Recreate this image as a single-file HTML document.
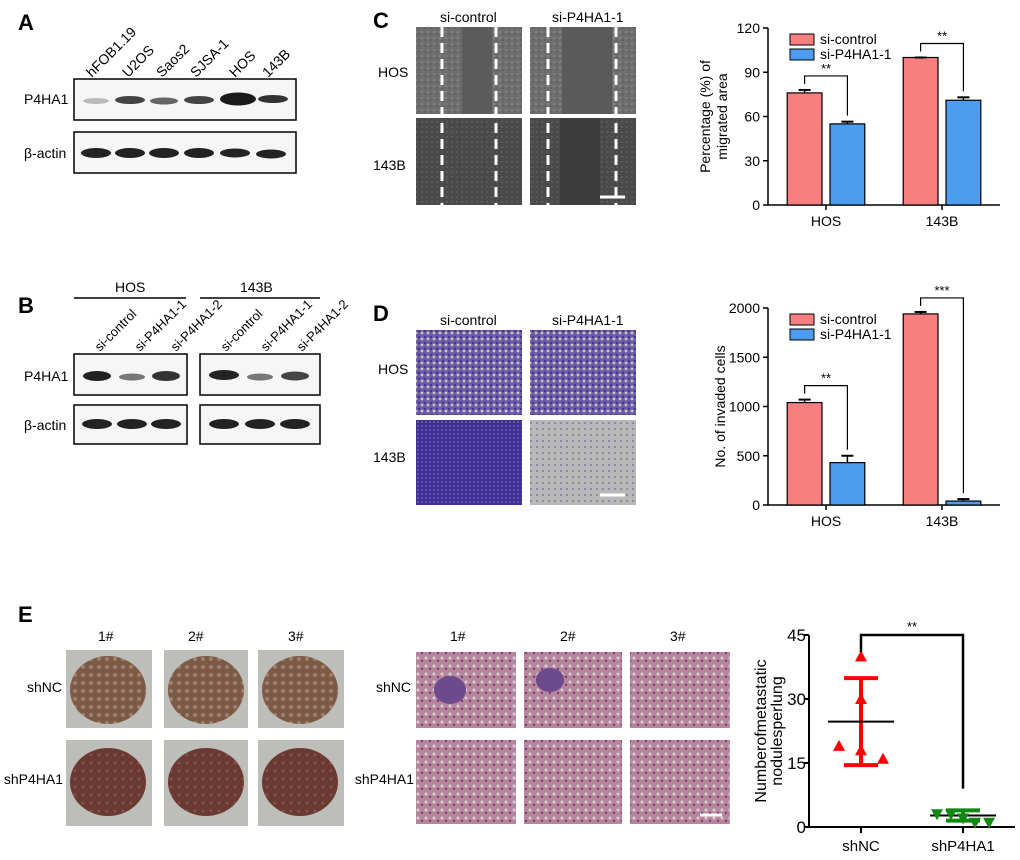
<!DOCTYPE html>
<html><head><meta charset="utf-8"><style>
body{margin:0;background:#fff}
svg{display:block;font-family:"Liberation Sans",Arial,sans-serif}
</style></head><body>
<svg width="1020" height="860" viewBox="0 0 1020 860">
<defs>
<pattern id="cells" width="6" height="6" patternUnits="userSpaceOnUse"><rect width="6" height="6" fill="#6e6e6e"/><circle cx="2" cy="2" r="1" fill="#8a8a8a"/><circle cx="5" cy="4" r="0.8" fill="#555"/></pattern>
<pattern id="dense" width="5" height="5" patternUnits="userSpaceOnUse"><rect width="5" height="5" fill="#4a4a4a"/><circle cx="2" cy="2" r="1" fill="#5e5e5e"/></pattern>
<pattern id="purple" width="6" height="6" patternUnits="userSpaceOnUse"><rect width="6" height="6" fill="#6a5aa8"/><circle cx="2" cy="3" r="1.4" fill="#c9c8b8"/><circle cx="5" cy="1" r="1" fill="#3b2a88"/></pattern>
<pattern id="purpleD" width="4" height="4" patternUnits="userSpaceOnUse"><rect width="4" height="4" fill="#3f2e94"/><circle cx="2" cy="2" r="0.8" fill="#8a80c0"/></pattern>
<pattern id="light" width="6" height="6" patternUnits="userSpaceOnUse"><rect width="6" height="6" fill="#b9b8b8"/><circle cx="3" cy="3" r="0.8" fill="#5a4e90"/></pattern>
<pattern id="he" width="8" height="8" patternUnits="userSpaceOnUse"><rect width="8" height="8" fill="#b7869e"/><circle cx="2" cy="2" r="1.5" fill="#d8cdd2"/><circle cx="6" cy="5" r="1.2" fill="#7a3e74"/></pattern>
<pattern id="lung1" width="8" height="8" patternUnits="userSpaceOnUse"><rect width="8" height="8" fill="#7b5a48"/><circle cx="3" cy="3" r="2" fill="#a08068"/></pattern>
<pattern id="lung2" width="8" height="8" patternUnits="userSpaceOnUse"><rect width="8" height="8" fill="#6a3a32"/><circle cx="3" cy="3" r="1.5" fill="#84504a"/></pattern>
</defs>

<!-- Panel A -->
<text x="18" y="30" font-size="22" font-weight="bold">A</text>
<g font-size="14">
<text transform="translate(92,78) rotate(-45)">hFOB1.19</text>
<text transform="translate(128,78) rotate(-45)">U2OS</text>
<text transform="translate(162,78) rotate(-45)">Saos2</text>
<text transform="translate(196,78) rotate(-45)">SJSA-1</text>
<text transform="translate(235,78) rotate(-45)">HOS</text>
<text transform="translate(268,78) rotate(-45)">143B</text>
</g>
<text x="24" y="104" font-size="14">P4HA1</text>
<text x="24" y="158" font-size="14">β-actin</text>
<rect x="74" y="79" width="222" height="41" fill="#f6f6f6" stroke="#000" stroke-width="1.5"/>
<rect x="74" y="132" width="222" height="41" fill="#f6f6f6" stroke="#000" stroke-width="1.5"/>
<g fill="#222">
<ellipse cx="96" cy="101" rx="13" ry="3" fill="#bbb"/>
<ellipse cx="130" cy="100" rx="15" ry="4" fill="#444"/>
<ellipse cx="164" cy="101" rx="14" ry="3.5" fill="#666"/>
<ellipse cx="199" cy="100" rx="15" ry="4" fill="#444"/>
<ellipse cx="238" cy="99" rx="18" ry="6.5" fill="#1a1a1a"/>
<ellipse cx="273" cy="99" rx="15" ry="4" fill="#333"/>
<ellipse cx="96" cy="153" rx="15" ry="5"/><ellipse cx="130" cy="153" rx="15" ry="5"/><ellipse cx="164" cy="153" rx="15" ry="5"/><ellipse cx="199" cy="153" rx="15" ry="5"/><ellipse cx="235" cy="153" rx="15" ry="4.5"/><ellipse cx="271" cy="154" rx="15" ry="4.5"/>
</g>

<!-- Panel B -->
<text x="18" y="313" font-size="22" font-weight="bold">B</text>
<text x="115" y="292" font-size="14">HOS</text>
<text x="240" y="292" font-size="14">143B</text>
<line x1="74" y1="298" x2="186" y2="298" stroke="#000" stroke-width="1.5"/>
<line x1="200" y1="298" x2="320" y2="298" stroke="#000" stroke-width="1.5"/>
<g font-size="13">
<text transform="translate(100,352) rotate(-45)">si-control</text>
<text transform="translate(140,352) rotate(-45)">si-P4HA1-1</text>
<text transform="translate(176,352) rotate(-45)">si-P4HA1-2</text>
<text transform="translate(226,352) rotate(-45)">si-control</text>
<text transform="translate(266,352) rotate(-45)">si-P4HA1-1</text>
<text transform="translate(302,352) rotate(-45)">si-P4HA1-2</text>
</g>
<text x="24" y="381" font-size="14">P4HA1</text>
<text x="24" y="430" font-size="14">β-actin</text>
<rect x="74" y="354" width="113" height="41" fill="#f6f6f6" stroke="#000" stroke-width="1.5"/>
<rect x="200" y="354" width="120" height="41" fill="#f6f6f6" stroke="#000" stroke-width="1.5"/>
<rect x="74" y="405" width="113" height="39" fill="#f6f6f6" stroke="#000" stroke-width="1.5"/>
<rect x="200" y="405" width="120" height="39" fill="#f6f6f6" stroke="#000" stroke-width="1.5"/>
<g fill="#222">
<ellipse cx="97" cy="376" rx="14" ry="5"/><ellipse cx="132" cy="377" rx="13" ry="3.5" fill="#777"/><ellipse cx="166" cy="376" rx="14" ry="5" fill="#333"/>
<ellipse cx="224" cy="375" rx="15" ry="5"/><ellipse cx="260" cy="377" rx="13" ry="3.5" fill="#777"/><ellipse cx="295" cy="376" rx="14" ry="4.5" fill="#444"/>
<ellipse cx="97" cy="424" rx="15" ry="5"/><ellipse cx="132" cy="424" rx="15" ry="5"/><ellipse cx="166" cy="424" rx="15" ry="5"/>
<ellipse cx="224" cy="424" rx="15" ry="5"/><ellipse cx="260" cy="424" rx="15" ry="5"/><ellipse cx="295" cy="424" rx="15" ry="5"/>
</g>

<!-- Panel C images -->
<text x="373" y="28" font-size="22" font-weight="bold">C</text>
<text x="440" y="22" font-size="14">si-control</text>
<text x="552" y="22" font-size="14">si-P4HA1-1</text>
<text x="378" y="77" font-size="14">HOS</text>
<text x="373" y="170" font-size="14">143B</text>
<g>
<rect x="416" y="27" width="106" height="87" fill="url(#cells)"/>
<rect x="462" y="27" width="30" height="87" fill="#5c5c5c"/>
<rect x="530" y="27" width="106" height="87" fill="url(#cells)"/>
<rect x="562" y="27" width="50" height="87" fill="#5a5a5a"/>
<rect x="416" y="118" width="106" height="87" fill="url(#dense)"/>
<rect x="530" y="118" width="106" height="87" fill="url(#dense)"/>
<rect x="560" y="118" width="40" height="87" fill="#3c3c3c"/>
<g stroke="#fff" stroke-width="3" stroke-dasharray="10,6">
<line x1="442" y1="27" x2="442" y2="205"/><line x1="496" y1="27" x2="496" y2="205"/>
<line x1="548" y1="27" x2="548" y2="205"/><line x1="616" y1="27" x2="616" y2="205"/>
</g>
<line x1="600" y1="197" x2="625" y2="197" stroke="#fff" stroke-width="3"/>
</g>

<!-- Panel D images -->
<text x="373" y="321" font-size="22" font-weight="bold">D</text>
<text x="440" y="325" font-size="14">si-control</text>
<text x="552" y="325" font-size="14">si-P4HA1-1</text>
<text x="378" y="374" font-size="14">HOS</text>
<text x="373" y="462" font-size="14">143B</text>
<g>
<rect x="416" y="330" width="106" height="85" fill="url(#purple)"/>
<rect x="530" y="330" width="106" height="85" fill="url(#purple)"/>
<rect x="416" y="420" width="106" height="85" fill="url(#purpleD)"/>
<rect x="530" y="420" width="106" height="85" fill="url(#light)"/>
<line x1="600" y1="495" x2="625" y2="495" stroke="#fff" stroke-width="3"/>
</g>

<g id="chartC"></g>
<g id="chartD"></g>

<!-- Panel E -->
<text x="18" y="622" font-size="22" font-weight="bold">E</text>
<g font-size="14">
<text x="98" y="641">1#</text><text x="188" y="641">2#</text><text x="288" y="641">3#</text>
<text x="62" y="692" text-anchor="end">shNC</text><text x="63" y="784" text-anchor="end">shP4HA1</text>
<text x="450" y="641">1#</text><text x="560" y="641">2#</text><text x="670" y="641">3#</text>
<text x="411" y="692" text-anchor="end">shNC</text><text x="414" y="784" text-anchor="end">shP4HA1</text>
</g>
<g>
<rect x="66" y="650" width="86" height="78" fill="#bdbdb9"/><ellipse cx="108" cy="690" rx="38" ry="34" fill="url(#lung1)"/>
<rect x="164" y="650" width="84" height="78" fill="#bdbdb9"/><ellipse cx="206" cy="690" rx="38" ry="34" fill="url(#lung1)"/>
<rect x="258" y="650" width="86" height="78" fill="#bdbdb9"/><ellipse cx="300" cy="690" rx="38" ry="34" fill="url(#lung1)"/>
<rect x="66" y="740" width="86" height="86" fill="#bdbdb9"/><ellipse cx="108" cy="782" rx="38" ry="34" fill="url(#lung2)"/>
<rect x="164" y="740" width="84" height="86" fill="#bdbdb9"/><ellipse cx="206" cy="782" rx="38" ry="34" fill="url(#lung2)"/>
<rect x="258" y="740" width="86" height="86" fill="#bdbdb9"/><ellipse cx="300" cy="782" rx="38" ry="34" fill="url(#lung2)"/>
</g>
<g>
<rect x="416" y="652" width="100" height="76" fill="url(#he)"/>
<rect x="524" y="652" width="98" height="76" fill="url(#he)"/>
<rect x="630" y="652" width="100" height="76" fill="url(#he)"/>
<rect x="416" y="740" width="100" height="84" fill="url(#he)"/>
<rect x="524" y="740" width="98" height="84" fill="url(#he)"/>
<rect x="630" y="740" width="100" height="84" fill="url(#he)"/>
<ellipse cx="450" cy="690" rx="16" ry="14" fill="#6d4a8e"/>
<ellipse cx="550" cy="680" rx="14" ry="12" fill="#6d4a8e"/>
<line x1="700" y1="815" x2="722" y2="815" stroke="#fff" stroke-width="3"/>
</g>
<g id="chartE"></g>
</svg>
<script>
const NS="http://www.w3.org/2000/svg";
function mk(p,tag,a){const e=document.createElementNS(NS,tag);for(const k in a)e.setAttribute(k,a[k]);p.appendChild(e);return e;}
function txt(p,x,y,s,size,anchor,extra){const t=mk(p,'text',Object.assign({x:x,y:y,'font-size':size,'text-anchor':anchor||'start'},extra||{}));t.textContent=s;return t;}

// Chart C data
const cGroups=["HOS","143B"];
const cSeries=["si-control","si-P4HA1-1"];
const cControl=[76,100];
const cKnock=[55,71];
const cControlErr=[2,0];
const cKnockErr=[1.5,2];
const cTicks=[0,30,60,90,120];
const cSig=["**","**"];
// Chart D data
const dControl=[1040,1940];
const dKnock=[430,40];
const dControlErr=[30,20];
const dKnockErr=[70,20];
const dTicks=[0,500,1000,1500,2000];
const dSig=["**","***"];
// Chart E data
const eGroups=["shNC","shP4HA1"];
const eShNC=[40,30,19,18,16];
const eShP4=[3,3,2,1,1];
const eMean=[24.7,2.7];
const eSD=[10.2,1.2];
const eTicks=[0,15,30,45];

function barChart(g,cfg){
  const x0=cfg.x0,y0=cfg.y0,y1=cfg.y1,x1=cfg.x1,max=cfg.ticks[cfg.ticks.length-1];
  const Y=v=>y0-(v/max)*(y0-y1);
  mk(g,'line',{x1:x0,y1:y1,x2:x0,y2:y0,stroke:'#000','stroke-width':1.5});
  mk(g,'line',{x1:x0,y1:y0,x2:x1,y2:y0,stroke:'#000','stroke-width':1.5});
  cfg.ticks.forEach(t=>{mk(g,'line',{x1:x0-5,y1:Y(t),x2:x0,y2:Y(t),stroke:'#000','stroke-width':1.5});
    const l=txt(g,x0-8,Y(t)+5,t,14,'end');});
  const gw=(x1-x0)/2;
  cfg.groups.forEach((gr,i)=>{
    const c=x0+gw*(i+0.5);
    const bw=gw*0.3;
    const xa=c-bw-4, xb=c+4;
    const va=cfg.a[i],vb=cfg.b[i];
    [[xa,va,'#f77f7f',cfg.ae[i]],[xb,vb,'#4d9cf0',cfg.be[i]]].forEach(([bx,v,col,er],k)=>{
      const r=mk(g,'rect',{x:bx,y:Y(v),width:bw,height:y0-Y(v),fill:col,stroke:'#000','stroke-width':1.2});
      
      
      mk(g,'line',{x1:bx+bw/2,y1:Y(v),x2:bx+bw/2,y2:Y(v+er),stroke:'#000','stroke-width':1.5});
      mk(g,'line',{x1:bx+bw/2-6,y1:Y(v+er),x2:bx+bw/2+6,y2:Y(v+er),stroke:'#000','stroke-width':2});
    });
    const top=Math.min(Y(va+cfg.ae[i]),Y(vb+cfg.be[i]))-14;
    mk(g,'polyline',{points:`${xa+bw/2},${Y(va+cfg.ae[i])-6} ${xa+bw/2},${top} ${xb+bw/2},${top} ${xb+bw/2},${Y(vb+cfg.be[i])-6}`,fill:'none',stroke:'#000','stroke-width':1.2});
    txt(g,(xa+xb+bw)/2,top-3,cfg.sig[i],13,'middle');
    mk(g,'line',{x1:c,y1:y0,x2:c,y2:y0+5,stroke:'#000','stroke-width':1.5});
    const l=txt(g,c,y0+21,gr,14,'middle');
  });
  const lx=x0+22, ly=y1+6;
  [['#f77f7f',cfg.series[0]],['#4d9cf0',cfg.series[1]]].forEach(([col,s],k)=>{
    const r=mk(g,'rect',{x:lx,y:ly+k*15,width:24,height:11,fill:col,stroke:'#000','stroke-width':1});
    
    
    const t=txt(g,lx+30,ly+k*15+10,s,14);
    
    
  });
  const n=cfg.title.length;
  const yt=txt(g,0,0,'',14,'middle',{transform:`translate(${x0-(n>1?58:43)},${(y0+y1)/2}) rotate(-90)`});
  cfg.title.forEach((s,k)=>{const ts=mk(yt,'tspan',{x:0,dy:k?17:0});ts.textContent=s;});
  
  
}
barChart(document.getElementById('chartC'),{x0:768,x1:1000,y0:205,y1:28,ticks:cTicks,groups:cGroups,series:cSeries,a:cControl,b:cKnock,ae:cControlErr,be:cKnockErr,sig:cSig,title:["Percentage (%) of","migrated area"]});
barChart(document.getElementById('chartD'),{x0:768,x1:1000,y0:505,y1:308,ticks:dTicks,groups:cGroups,series:cSeries,a:dControl,b:dKnock,ae:dControlErr,be:dKnockErr,sig:dSig,title:["No. of invaded cells"]});

(function(){
  const g=document.getElementById('chartE');
  const x0=809,x1=1015,y0=827,y1=635,max=45;
  const Y=v=>y0-(v/max)*(y0-y1);
  const X=[861,963];
  mk(g,'line',{x1:x0,y1:y1,x2:x0,y2:y0,stroke:'#000','stroke-width':2});
  mk(g,'line',{x1:x0,y1:y0,x2:x1,y2:y0,stroke:'#000','stroke-width':2});
  eTicks.forEach(t=>{mk(g,'line',{x1:x0-5,y1:Y(t),x2:x0,y2:Y(t),stroke:'#000','stroke-width':2});
    const l=txt(g,x0-3,Y(t)+6,t,17,'end');});
  eGroups.forEach((gr,i)=>{mk(g,'line',{x1:X[i],y1:y0,x2:X[i],y2:y0+6,stroke:'#000','stroke-width':2});
    const l=txt(g,X[i],y0+24,gr,15,'middle');});
  const cols=['#ff0000','#118811'];
  const offs=[0,0,-22,0,22];
  [eShNC,eShP4].forEach((arr,i)=>{
    const c=X[i],col=cols[i];
    mk(g,'line',{x1:c,y1:Y(eMean[i]+eSD[i]),x2:c,y2:Y(eMean[i]-eSD[i]),stroke:col,'stroke-width':4});
    [eMean[i]+eSD[i],eMean[i]-eSD[i]].forEach(v=>mk(g,'line',{x1:c-17,y1:Y(v),x2:c+17,y2:Y(v),stroke:col,'stroke-width':4}));
    mk(g,'line',{x1:c-33,y1:Y(eMean[i]),x2:c+33,y2:Y(eMean[i]),stroke:'#000','stroke-width':2});
    arr.forEach((v,k)=>{
      const px=c+(i===0?offs[k]:[-26,-12,0,12,26][k]),py=Y(v);
      const pts=i===0?`${px},${py-6} ${px-6},${py+5} ${px+6},${py+5}`:`${px},${py+6} ${px-6},${py-5} ${px+6},${py-5}`;
      const p=mk(g,'polygon',{points:pts,fill:col});
      
      
    });
  });
  const top=Y(45);
  mk(g,'polyline',{points:`${X[0]},${Y(41)} ${X[0]},${top} ${X[1]},${top} ${X[1]},${Y(9)}`,fill:'none',stroke:'#000','stroke-width':2.5});
  txt(g,(X[0]+X[1])/2,top-4,'**',13,'middle');
  const yt=txt(g,0,0,'',16,'middle',{transform:`translate(${x0-43},${(y0+y1)/2}) rotate(-90)`});
  ["Numberofmetastatic","nodulesperlung"].forEach((s,k)=>{const ts=mk(yt,'tspan',{x:0,dy:k?16:0});ts.textContent=s;});
  
  
})();
</script>
</body></html>
